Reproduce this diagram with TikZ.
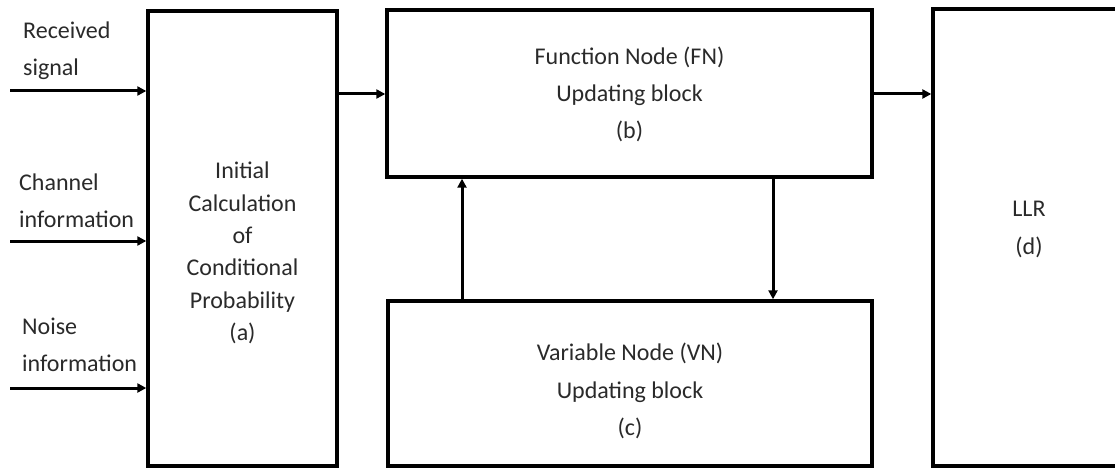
\documentclass[tikz,border=0pt]{standalone}
\usepackage{fontspec}
\setmainfont{Carlito}
\usetikzlibrary{arrows.meta}
\definecolor{txt}{HTML}{2A2A2A}
\tikzset{
  blockbox/.style={draw=black, line width=3.4pt, minimum width=#1, inner sep=0pt},
  arr/.style={line width=3pt, -{Triangle[length=9pt,width=9pt]}},
  lbl/.style={inner sep=0pt, text=txt, font=\fontsize{24}{37}\selectfont},
}
\begin{document}
\begin{tikzpicture}[x=1pt,y=-1pt]
\clip (0,0) rectangle (1115,468);
\fill[white] (0,0) rectangle (1115,468);
% blocks
\node[blockbox=189pt, minimum height=455pt] (a) at (242.5,238.5) {};
\node[blockbox=485pt, minimum height=167pt] (b) at (629.5,93.5) {};
\node[blockbox=484pt, minimum height=165pt] (c) at (630,383.5) {};
\node[blockbox=192pt, minimum height=457pt] (d) at (1029,237.5) {};
% block texts
\node[lbl, align=center, font=\fontsize{24}{32.4}\selectfont] (ta) at (242.5,253) {Initial\\Calculation\\of\\Conditional\\Probability\\(a)};
\node[lbl, align=center] (tb) at (629.5,94) {Function Node (FN)\\Updating block\\(b)};
\node[lbl, align=center, font=\fontsize{24}{37.5}\selectfont] (tc) at (630,391) {Variable Node (VN)\\Updating block\\(c)};
\node[lbl, align=center, font=\fontsize{24}{38.5}\selectfont] (td) at (1029,229.5) {LLR\\(d)};
% input labels
\node[lbl, align=left, anchor=west] (l1) at (23,51) {Received\\signal};
\node[lbl, align=left, anchor=west] (l2) at (19,201) {Channel\\information};
\node[lbl, align=left, anchor=west] (l3) at (22,345) {Noise\\information};
% input arrows
\coordinate (s1) at (10,91);
\coordinate (s2) at (10,241);
\coordinate (s3) at (10,388);
\draw[arr] (s1) -- (s1 -| a.west);
\draw[arr] (s2) -- (s2 -| a.west);
\draw[arr] (s3) -- (s3 -| a.west);
% block arrows
\coordinate (ab) at (360,94);
\coordinate (bd) at (900,94);
\draw[arr] (ab -| a.east) -- (ab -| b.west);
\draw[arr] (bd -| b.east) -- (bd -| d.west);
\coordinate (up) at (462,240);
\coordinate (dn) at (773,240);
\draw[arr] (up |- c.north) -- (up |- b.south);
\draw[arr] (dn |- b.south) -- (dn |- c.north);
\end{tikzpicture}
\end{document}
